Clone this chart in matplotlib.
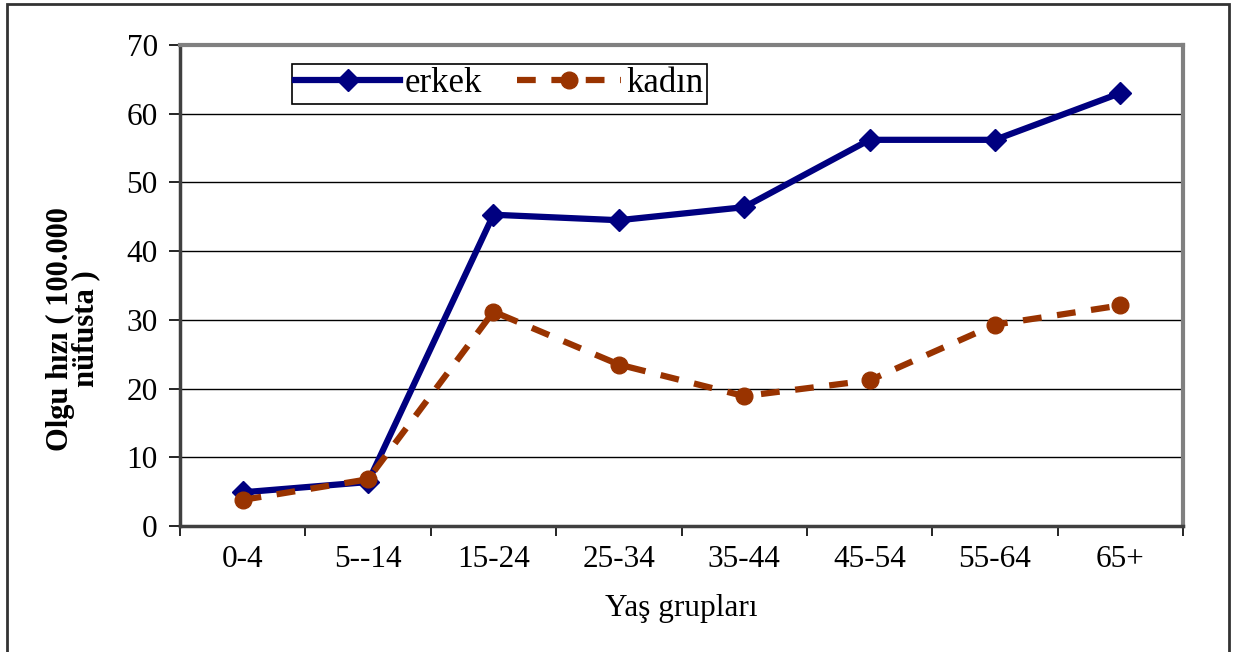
import matplotlib.pyplot as plt
import matplotlib.patches as patches
import numpy as np

# data
age_groups = ['0-4', '5--14', '15-24', '25-34', '35-44', '45-54', '55-64', '65+']
erkek = [4.9, 6.4, 45.3, 44.5, 46.4, 56.2, 56.2, 63.0]
kadin = [3.8, 6.8, 31.2, 23.5, 18.9, 21.2, 29.3, 32.1]

plt.rcParams['font.family'] = ['Liberation Serif', 'DejaVu Serif']

fig = plt.figure(figsize=(12.36, 6.52), dpi=100)
ax = fig.add_axes([180/1236, 1 - 526/652, 1003/1236, 481/652])

x = np.arange(len(age_groups))
ax.plot(x, erkek, color='#000080', lw=4.5, marker='D', ms=11,
        label='erkek', solid_joinstyle='miter')
ax.plot(x, kadin, color='#993300', lw=4.5, ls=(0, (3, 2.5)), marker='o', ms=12,
        label='kadın')

ax.set_xlim(-0.5, len(age_groups) - 0.5)
ax.set_ylim(0, 70)
ax.set_yticks(range(0, 71, 10))
ax.set_xticks(x)
ax.set_xticklabels(age_groups)
ax.set_xticks(np.arange(-0.5, len(age_groups)), minor=True)
ax.tick_params(axis='x', which='major', length=0, pad=14, labelsize=22.5)
ax.tick_params(axis='x', which='minor', length=7, width=1.2, color='black', direction='out')
ax.tick_params(axis='y', length=8, width=1.2, pad=8, labelsize=22.5, direction='out')
ax.grid(axis='y', color='black', lw=1)
ax.set_axisbelow(True)

for s in ['top', 'right']:
    ax.spines[s].set_color('#808080')
    ax.spines[s].set_linewidth(3)
for s in ['left', 'bottom']:
    ax.spines[s].set_color('#404040')
    ax.spines[s].set_linewidth(2.5)

ax.set_xlabel('Yaş grupları', fontsize=22.5, labelpad=14)
ax.set_ylabel('Olgu hızı ( 100.000\nnüfusta )', fontsize=22, fontweight='semibold',
              linespacing=0.82)
ax.yaxis.set_label_coords(-0.08, 0.41)

leg = ax.legend(loc='upper left', bbox_to_anchor=(112/1003, 1 - 19/481), ncol=2,
                fontsize=25, handlelength=3.0, columnspacing=1.0, borderaxespad=0,
                fancybox=False, edgecolor='black', framealpha=1,
                borderpad=0.1, handletextpad=0.15)
leg.get_frame().set_linewidth(1.2)

# outer chart frame
fig.patches.append(patches.Rectangle((7/1236, -0.05), 1222/1236, 1.05 - 4/652,
                                     transform=fig.transFigure, fill=False,
                                     edgecolor='#333333', lw=2))

fig.savefig('out.png', dpi=100)
